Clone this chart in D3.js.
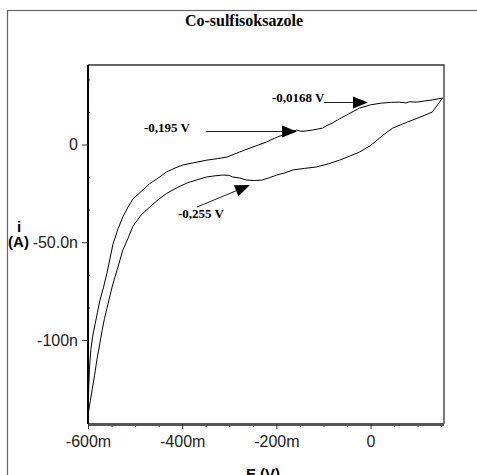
<!DOCTYPE html>
<html><head><meta charset="utf-8">
<script src="https://cdn.jsdelivr.net/npm/d3@7"></script>
<style>body{margin:0;background:#fff}svg{display:block}</style>
</head><body>
<script>
// Data (E in mV, i in nA)
const forwardScan = [
  [-600,-143],[-599,-128],[-597,-115],[-594,-105],[-590,-98],[-585,-92],[-580,-86],[-575,-80],
  [-567,-73],[-560,-66],[-553,-58],[-547,-51],[-536,-43],[-526,-37],[-515,-32],[-505,-28],
  [-487,-24],[-469,-20],[-450,-17],[-433,-14],[-415,-12],[-399,-10.5],[-375,-9.3],[-348,-8],
  [-325,-7.2],[-305,-6.4],[-290,-5],[-278,-3.8],[-256,-1.8],[-238,-0.2],[-221,1.3],[-204,3.2],
  [-187,4.9],[-170,6.4],[-157,7.4],[-148,6.8],[-138,6.9],[-123,7.4],[-102,8.4],[-92,9.8],
  [-81,11],[-66,13.1],[-51,15.1],[-37,16.9],[-23,18.7],[0,20.3],[23,21.2],[45,21.6],[61,21.7],
  [75,21.3],[82,21.9],[98,21.7],[115,22.3],[131,22.8],[153,23.8]
];
const reverseScan = [
  [-600,-143],[-599,-137],[-595,-131],[-591,-125],[-586,-118],[-581,-110],[-575,-102],
  [-570,-95],[-565,-89],[-560,-84],[-555,-79],[-549,-73],[-543,-68],[-538,-64],[-532,-59],
  [-526,-54],[-515,-48],[-505,-42],[-487,-36],[-469,-32],[-450,-28],[-433,-25],[-410,-22],
  [-390,-19.7],[-368,-18],[-348,-16.6],[-330,-16],[-314,-15.6],[-300,-15.8],[-293,-16.6],
  [-278,-17.1],[-263,-18.2],[-247,-18.4],[-231,-18.2],[-215,-17],[-199,-15.6],[-182,-14.5],
  [-165,-13],[-140,-12.2],[-115,-11.5],[-90,-9.9],[-66,-8],[-45,-6],[-23,-3.8],[0,-0.5],
  [19,3.3],[33,6],[47,8.4],[68,10.5],[89,12.5],[110,14.5],[131,16.6],[142,20.2],[153,23.8]
];
const title = "Co-sulfisoksazole";
const xMajorTicks = [-600,-400,-200,0];
const xTickLabels = ["-600m","-400m","-200m","0"];
const xMinorTicks = [-550,-500,-450,-350,-300,-250,-150,-100,-50,50,100,150];
const yMajorTicks = [0,-50,-100];
const yTickLabels = ["0","-50.0n","-100n"];
const yMinorTicks = [33.33,16.67,-16.67,-33.33,-66.67,-83.33,-116.67,-133.33];
const annotations = [
  {text:"-0,0168 V", tx:272, ty:102, from:[324,102.5], to:[368,102.5]},
  {text:"-0,195 V", tx:144, ty:132, from:[206,131.5], to:[297,131.5]},
  {text:"-0,255 V", tx:178, ty:218, from:[197,207], to:[250,185]}
];

const W=477,H=475;
const svg=d3.select("body").append("svg").attr("width",W).attr("height",H);
const L=88,R=444,T=65,B=424;
const x=d3.scaleLinear().domain([-600,156]).range([L,R]);
const y=d3.scaleLinear().domain([40.7,-143]).range([T,B]);

// outer frame
svg.append("rect").attr("x",7.5).attr("y",10.5).attr("width",600).attr("height",600)
  .attr("fill","none").attr("stroke","#666").attr("stroke-width",1.2);

svg.append("text").attr("x",244).attr("y",26).attr("text-anchor","middle")
  .attr("font-family","Liberation Serif, Times New Roman, serif").attr("font-weight","bold")
  .attr("font-size",16).text(title);

// plot box top/right
svg.append("path").attr("d",`M${L},${T}H${R}V${B}`).attr("fill","none")
  .attr("stroke","#333").attr("stroke-width",1.3);

// curves
const line=d3.line().x(d=>x(d[0])).y(d=>y(d[1]));
[forwardScan,reverseScan].forEach(s=>{
  svg.append("path").datum(s).attr("d",line).attr("fill","none")
    .attr("stroke","#000").attr("stroke-width",1);
});

const font="Liberation Sans, Arial, sans-serif";
// x axis
const gx=svg.append("g").attr("transform",`translate(0,${B})`);
gx.call(d3.axisBottom(x).tickValues(xMinorTicks).tickSize(3).tickFormat(""));
gx.call(g=>{g.select(".domain").remove();});
const gx2=svg.append("g").attr("transform",`translate(0,${B})`);
gx2.call(d3.axisBottom(x).tickValues(xMajorTicks).tickSize(5).tickPadding(7)
  .tickFormat((d,i)=>xTickLabels[i]));
gx2.select(".domain").attr("d",`M${L},0.5H${R}`).attr("stroke","#555").attr("stroke-width",3);
[gx,gx2].forEach(g=>g.selectAll(".tick line").attr("stroke","#333").attr("stroke-width",1));
gx2.selectAll("text").attr("font-family",font).attr("font-size",16).attr("fill","#222");

// y axis
const gy=svg.append("g").attr("transform",`translate(${L},0)`);
gy.call(d3.axisRight(y).tickValues(yMinorTicks).tickSize(2).tickFormat(""));
gy.select(".domain").remove();
const gy2=svg.append("g").attr("transform",`translate(${L},0)`);
gy2.call(d3.axisLeft(y).tickValues(yMajorTicks).tickSize(6).tickPadding(4)
  .tickFormat((d,i)=>yTickLabels[i]));
gy2.select(".domain").attr("d",`M0,${T}V${B}`).attr("stroke","#000").attr("stroke-width",2);
[gy,gy2].forEach(g=>g.selectAll(".tick line").attr("stroke","#333").attr("stroke-width",1));
gy2.selectAll("text").attr("font-family",font).attr("font-size",16).attr("fill","#222");

// axis titles
svg.append("text").attr("x",19).attr("y",232).attr("text-anchor","middle")
  .attr("font-family",font).attr("font-weight","bold").attr("font-size",15).text("i");
svg.append("text").attr("x",18.5).attr("y",247).attr("text-anchor","middle")
  .attr("font-family",font).attr("font-weight","bold").attr("font-size",15).text("(A)");
svg.append("text").attr("x",263).attr("y",479).attr("text-anchor","middle")
  .attr("font-family",font).attr("font-weight","bold").attr("font-size",15).text("E (V)");

// annotations
annotations.forEach(a=>{
  svg.append("text").attr("x",a.tx).attr("y",a.ty)
    .attr("font-family","Liberation Serif, Times New Roman, serif").attr("font-weight","bold")
    .attr("font-size",13).text(a.text);
  const [x1,y1]=a.from,[x2,y2]=a.to;
  const ang=Math.atan2(y2-y1,x2-x1), len=15, hw=6;
  const bx=x2-len*Math.cos(ang), by=y2-len*Math.sin(ang);
  svg.append("line").attr("x1",x1).attr("y1",y1).attr("x2",bx).attr("y2",by)
    .attr("stroke","#222").attr("stroke-width",1);
  const px=-Math.sin(ang)*hw, py=Math.cos(ang)*hw;
  svg.append("path").attr("d",`M${x2},${y2}L${bx+px},${by+py}L${bx-px},${by-py}Z`).attr("fill","#000");
});
</script>
</body></html>
